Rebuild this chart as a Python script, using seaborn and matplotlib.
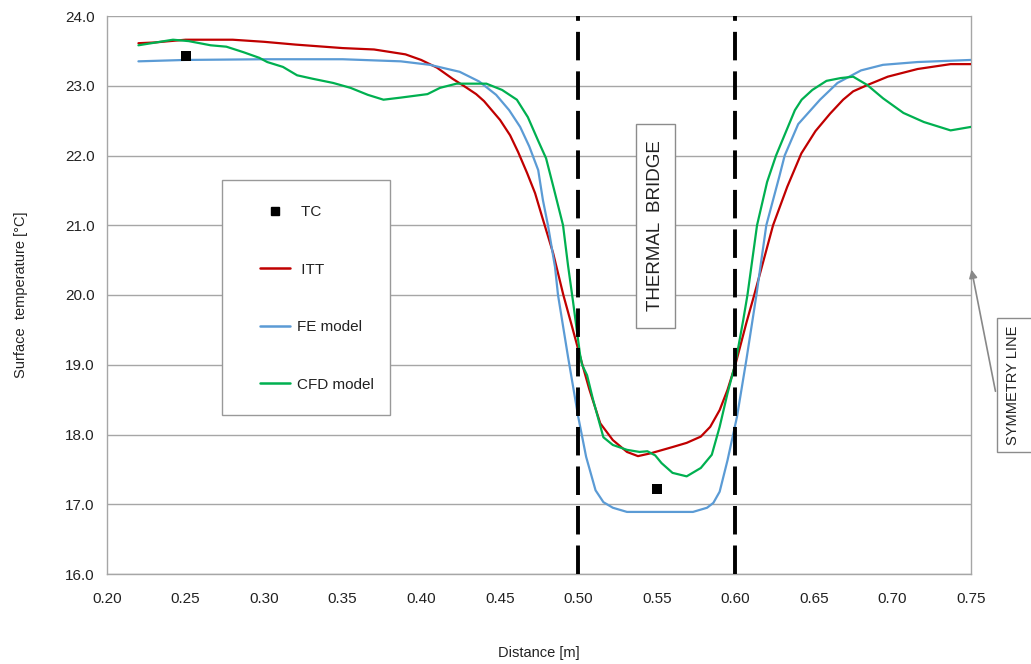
import matplotlib
matplotlib.use("Agg")
import matplotlib.pyplot as plt
import seaborn as sns
from matplotlib.lines import Line2D
from matplotlib.patches import Rectangle

# ---- data ----
itt_x = [0.22, 0.23, 0.25, 0.28, 0.30, 0.32, 0.35, 0.37, 0.39, 0.40, 0.41, 0.42, 0.427, 0.435,
         0.44, 0.4502, 0.4566, 0.4617, 0.4674, 0.4725, 0.477, 0.484, 0.4905, 0.496, 0.502, 0.507,
         0.514, 0.522, 0.531, 0.538, 0.546, 0.56, 0.569, 0.578, 0.584, 0.59, 0.595, 0.60, 0.607,
         0.612, 0.618, 0.624, 0.633, 0.642, 0.651, 0.6603, 0.6686, 0.675, 0.684, 0.697, 0.716,
         0.737, 0.75]
itt_t = [23.61, 23.62, 23.66, 23.66, 23.63, 23.59, 23.54, 23.52, 23.45, 23.37, 23.26, 23.1, 23.0,
         22.88, 22.78, 22.51, 22.29, 22.05, 21.75, 21.46, 21.12, 20.6, 20.0, 19.55, 19.05, 18.65,
         18.16, 17.92, 17.75, 17.69, 17.73, 17.82, 17.88, 17.97, 18.11, 18.35, 18.64, 19.0, 19.6,
         20.0, 20.5, 21.0, 21.55, 22.03, 22.35, 22.6, 22.8, 22.92, 23.01, 23.13, 23.24, 23.31,
         23.31]

fe_x = [0.22, 0.25, 0.30, 0.35, 0.387, 0.4055, 0.4245, 0.437, 0.4477, 0.456, 0.463, 0.4688,
        0.4745, 0.4775, 0.4807, 0.4852, 0.4871, 0.4935, 0.50, 0.505, 0.511, 0.516, 0.522, 0.531,
        0.55, 0.573, 0.582, 0.586, 0.59, 0.595, 0.601, 0.607, 0.6134, 0.6197, 0.628, 0.6314,
        0.64, 0.6539, 0.665, 0.68, 0.694, 0.716, 0.75]
fe_t = [23.35, 23.37, 23.38, 23.38, 23.35, 23.3, 23.2, 23.06, 22.87, 22.65, 22.41, 22.13, 21.79,
        21.36, 21.0, 20.4, 20.0, 19.11, 18.25, 17.68, 17.2, 17.03, 16.95, 16.89, 16.89, 16.89,
        16.95, 17.02, 17.18, 17.63, 18.25, 19.07, 20.0, 21.0, 21.7, 22.0, 22.45, 22.8, 23.04,
        23.22, 23.3, 23.34, 23.37]

cfd_x = [0.22, 0.242, 0.252, 0.266, 0.276, 0.287, 0.297, 0.302, 0.312, 0.321, 0.331, 0.344, 0.355,
         0.366, 0.376, 0.387, 0.404, 0.412, 0.4225, 0.4415, 0.4515, 0.4609, 0.4679, 0.4743, 0.4795,
         0.4845, 0.4903, 0.4935, 0.4967, 0.5011, 0.5024, 0.5056, 0.5094,
         0.516, 0.522, 0.531, 0.539, 0.544, 0.549, 0.553, 0.56, 0.569, 0.578, 0.585, 0.59, 0.595,
         0.60, 0.605, 0.6077, 0.6138, 0.6202, 0.6259, 0.6379, 0.6422, 0.649, 0.658, 0.667, 0.675,
         0.684, 0.694, 0.707, 0.72, 0.737, 0.75]
cfd_t = [23.58, 23.66, 23.64, 23.58, 23.56, 23.48, 23.4, 23.34, 23.27, 23.15, 23.1, 23.04, 22.97,
         22.87, 22.8, 22.83, 22.88, 22.97, 23.03, 23.03, 22.94, 22.8, 22.55, 22.22, 21.96,
         21.52, 21.0, 20.42, 19.9, 19.15, 19.0, 18.85, 18.5,
         17.96, 17.85, 17.78, 17.75, 17.76, 17.7, 17.59, 17.45, 17.4, 17.52, 17.71, 18.11, 18.59,
         19.02, 19.64, 20.0, 21.0, 21.62, 22.0, 22.65, 22.8, 22.94, 23.07, 23.11, 23.13, 23.01,
         22.82, 22.61, 22.48, 22.36, 22.41]

tc_x = [0.25, 0.55]
tc_t = [23.43, 17.22]

bridge_x = [0.50, 0.60]
x_ticks = [0.20, 0.25, 0.30, 0.35, 0.40, 0.45, 0.50, 0.55, 0.60, 0.65, 0.70, 0.75]
y_ticks = [16.0, 17.0, 18.0, 19.0, 20.0, 21.0, 22.0, 23.0, 24.0]
legend_labels = [" TC", " ITT", "FE model", "CFD model"]

# ---- style ----
sns.set_style("white")
plt.rcParams['font.family'] = ['Liberation Sans', 'DejaVu Sans']

RED = "#C00000"
BLUE = "#5B9BD5"
GREEN = "#00B050"
GRID = "#A6A6A6"
TXT = "#222222"

W, H = 1031, 664
fig = plt.figure(figsize=(W / 100, H / 100), dpi=100)
ax = fig.add_axes([107 / W, 1 - 574 / H, (971 - 107) / W, (574 - 16) / H])


def fx(px):
    return px / W


def fy(py):
    return 1 - py / H


sns.lineplot(x=itt_x, y=itt_t, ax=ax, color=RED, linewidth=1.6, sort=False, zorder=3)
sns.lineplot(x=fe_x, y=fe_t, ax=ax, color=BLUE, linewidth=1.6, sort=False, zorder=3)
sns.lineplot(x=cfd_x, y=cfd_t, ax=ax, color=GREEN, linewidth=1.6, sort=False, zorder=3)
sns.scatterplot(x=tc_x, y=tc_t, ax=ax, color="black", marker="s", s=52, edgecolor="none", zorder=4)

for bx in bridge_x:
    ax.axvline(bx, color="black", linewidth=2.8, linestyle=(0, (7.33, 2.83)), zorder=5)

ax.set_xlim(0.20, 0.75)
ax.set_ylim(16.0, 24.0)
ax.set_xticks(x_ticks)
ax.set_xticklabels([f"{v:.2f}" for v in x_ticks])
ax.set_yticks(y_ticks)
ax.set_yticklabels([f"{v:.1f}" for v in y_ticks])
ax.yaxis.grid(True, color=GRID, linewidth=1.0)
ax.xaxis.grid(False)
ax.set_axisbelow(True)

for side in ["left", "bottom", "right"]:
    ax.spines[side].set_color(GRID)
    ax.spines[side].set_linewidth(1.0)
ax.spines["top"].set_visible(False)

ax.tick_params(axis="both", which="major", labelsize=11, colors=TXT,
               length=5, width=1, direction="out", color=GRID)
ax.tick_params(axis="x", pad=8)
ax.tick_params(axis="y", pad=4)

ax.set_xlabel("Distance [m]", fontsize=10.5, labelpad=29, color=TXT)
ax.set_ylabel("Surface  temperature [°C]", fontsize=10.5, labelpad=26.5, color=TXT)

# thermal bridge label (box drawn in pixel coordinates)
fig.patches.append(Rectangle((fx(636), fy(328)), (675 - 636) / W, (328 - 124) / H,
                             transform=fig.transFigure, facecolor="white",
                             edgecolor="#8C8C8C", linewidth=1.0, zorder=6))
fig.text(fx(655.5), fy(226), "THERMAL  BRIDGE", rotation=90, ha="center", va="center",
         fontsize=13.5, color=TXT, zorder=7)

# symmetry line label
fig.patches.append(Rectangle((fx(997), fy(452)), (1045 - 997) / W, (452 - 318) / H,
                             transform=fig.transFigure, facecolor="white",
                             edgecolor="#8C8C8C", linewidth=1.0, zorder=6))
fig.text(fx(1013), fy(385), "SYMMETRY LINE", rotation=90, ha="center", va="center",
         fontsize=10.5, color=TXT, zorder=7)
ax.annotate("", xy=(fx(971), fy(267)), xycoords="figure fraction",
            xytext=(fx(996), fy(394)), textcoords="figure fraction",
            arrowprops=dict(arrowstyle="-|>", color="#888888", linewidth=1.2, mutation_scale=12),
            annotation_clip=False)

# legend: frame drawn separately, entries placed inside it
fig.patches.append(Rectangle((fx(222), fy(415)), (390 - 222) / W, (415 - 180) / H,
                             transform=fig.transFigure, facecolor="white",
                             edgecolor="#999999", linewidth=1.0, zorder=6))
handles = [
    Line2D([], [], color="black", marker="s", linestyle="none", markersize=5.2),
    Line2D([], [], color=RED, linewidth=1.8),
    Line2D([], [], color=BLUE, linewidth=1.8),
    Line2D([], [], color=GREEN, linewidth=1.8),
]
leg = fig.legend(handles, legend_labels, loc="upper left",
                 bbox_to_anchor=(fx(260), fy(205)), bbox_transform=fig.transFigure,
                 fontsize=11, frameon=False, handlelength=1.96, handletextpad=0.46,
                 labelspacing=2.85, borderpad=0, borderaxespad=0)
leg.set_zorder(8)
for t in leg.get_texts():
    t.set_color(TXT)

fig.savefig("out.png", dpi=100)
